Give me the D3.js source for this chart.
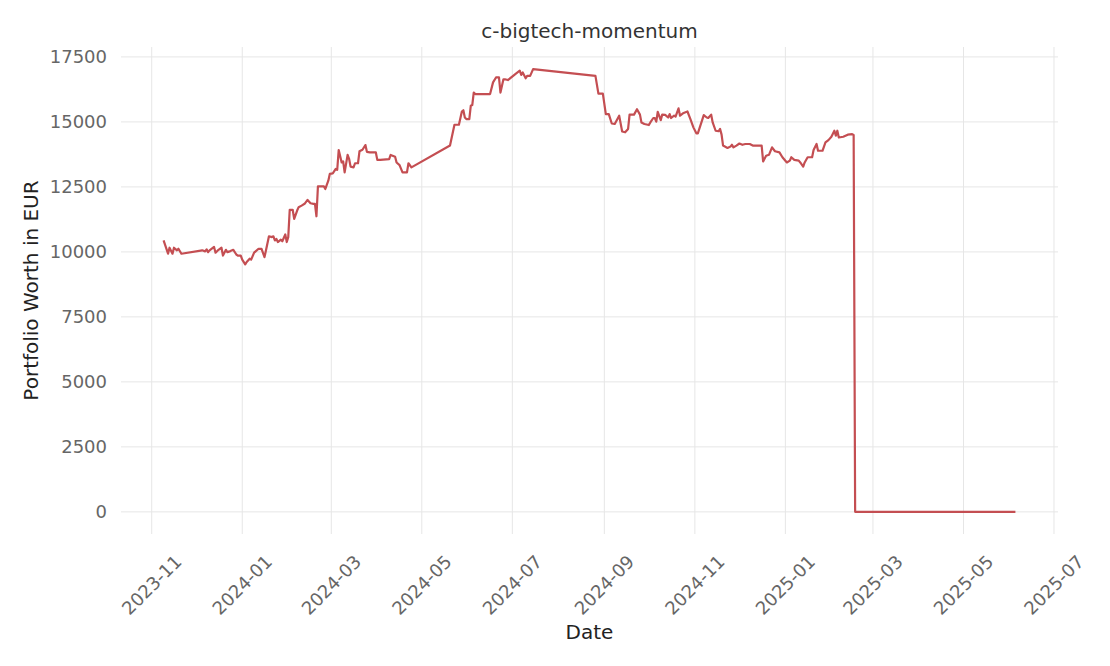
<!DOCTYPE html>
<html>
<head>
<meta charset="utf-8">
<script src="https://cdn.jsdelivr.net/npm/d3@7"></script>
<style>
  body { margin: 0; background: #fff; }
  svg text { font-family: "DejaVu Sans", sans-serif; }
</style>
</head>
<body>
<div id="chart-area"></div>
<script>

// chart data
let dates = [
	"2023-11-09","2023-11-12","2023-11-13","2023-11-15","2023-11-16","2023-11-18","2023-11-19","2023-11-21",
	"2023-12-05","2023-12-07","2023-12-08","2023-12-09","2023-12-10","2023-12-13","2023-12-14","2023-12-16",
	"2023-12-18","2023-12-19","2023-12-21","2023-12-22","2023-12-24","2023-12-26","2023-12-28","2023-12-29",
	"2023-12-31","2024-01-01","2024-01-03","2024-01-04","2024-01-06","2024-01-07","2024-01-09","2024-01-10",
	"2024-01-12","2024-01-14","2024-01-16","2024-01-17","2024-01-19","2024-01-21","2024-01-22","2024-01-23",
	"2024-01-24","2024-01-25","2024-01-27","2024-01-28","2024-01-30","2024-01-31","2024-02-01","2024-02-02",
	"2024-02-04","2024-02-05","2024-02-07","2024-02-08","2024-02-10","2024-02-12","2024-02-14","2024-02-16",
	"2024-02-18","2024-02-19","2024-02-20","2024-02-21","2024-02-25","2024-02-26","2024-02-28","2024-02-29",
	"2024-03-02","2024-03-04","2024-03-05","2024-03-06","2024-03-08","2024-03-09","2024-03-10","2024-03-12",
	"2024-03-13","2024-03-14","2024-03-16","2024-03-17","2024-03-19","2024-03-20","2024-03-22","2024-03-24",
	"2024-03-25","2024-03-27","2024-03-31","2024-04-01","2024-04-03","2024-04-09","2024-04-10","2024-04-13",
	"2024-04-14","2024-04-16","2024-04-18","2024-04-21","2024-04-22","2024-04-24","2024-05-20","2024-05-23",
	"2024-05-26","2024-05-28","2024-05-29","2024-05-30","2024-05-31","2024-06-02","2024-06-03","2024-06-04",
	"2024-06-05","2024-06-06","2024-06-16","2024-06-18","2024-06-20","2024-06-22","2024-06-23","2024-06-25",
	"2024-06-26","2024-06-28","2024-07-03","2024-07-06","2024-07-07","2024-07-08","2024-07-10","2024-07-11",
	"2024-07-13","2024-07-15","2024-08-26","2024-08-28","2024-08-31","2024-09-02","2024-09-04","2024-09-06",
	"2024-09-08","2024-09-11","2024-09-13","2024-09-15","2024-09-17","2024-09-18","2024-09-21","2024-09-23",
	"2024-09-25","2024-09-26","2024-09-28","2024-10-01","2024-10-02","2024-10-04","2024-10-05","2024-10-06",
	"2024-10-07","2024-10-09","2024-10-10","2024-10-12","2024-10-14","2024-10-15","2024-10-16","2024-10-18",
	"2024-10-19","2024-10-21","2024-10-22","2024-10-24","2024-10-27","2024-10-29","2024-10-31","2024-11-02",
	"2024-11-03","2024-11-07","2024-11-09","2024-11-10","2024-11-12","2024-11-13","2024-11-15","2024-11-17",
	"2024-11-18","2024-11-19","2024-11-20","2024-11-23","2024-11-25","2024-11-26","2024-11-27","2024-11-29",
	"2024-12-01","2024-12-03","2024-12-05","2024-12-08","2024-12-10","2024-12-16","2024-12-17","2024-12-19",
	"2024-12-21","2024-12-23","2024-12-25","2024-12-28","2024-12-30","2025-01-02","2025-01-04","2025-01-05",
	"2025-01-07","2025-01-10","2025-01-11","2025-01-13","2025-01-14","2025-01-16","2025-01-19","2025-01-20",
	"2025-01-22","2025-01-23","2025-01-26","2025-01-28","2025-01-30","2025-02-01","2025-02-03","2025-02-04",
	"2025-02-05","2025-02-06","2025-02-09","2025-02-12","2025-02-15","2025-02-16","2025-02-17","2025-06-05"
];

let worth = [
	10440, 9930, 10160, 9930, 10160, 10060, 10120, 9930,
	10060, 10020, 10100, 9990, 10060, 10190, 9970, 10080,
	10160, 9860, 10080, 9990, 10030, 10080, 9900, 9860,
	9860, 9700, 9520, 9610, 9740, 9700, 9970, 10020,
	10120, 10120, 9800, 10060, 10600, 10570, 10600, 10440,
	10500, 10380, 10470, 10410, 10670, 10380, 10570, 11620,
	11620, 11270, 11590, 11720, 11780, 11850, 12000, 11870,
	11850, 11850, 11370, 12520, 12520, 12420, 12740, 13000,
	13020, 13190, 13160, 13920, 13440, 13480, 13060, 13730,
	13580, 13280, 13250, 13410, 13410, 13870, 13930, 14110,
	13850, 13830, 13830, 13540, 13540, 13570, 13730, 13660,
	13440, 13340, 13060, 13060, 13410, 13250, 14090, 14890,
	14890, 15400, 15450, 15170, 15110, 15110, 15620, 15650,
	16130, 16070, 16070, 16520, 16710, 16710, 16130, 16640,
	16640, 16610, 16840, 16970, 16810, 16900, 16680, 16770,
	16770, 17030, 16770, 16090, 16090, 15300, 15300, 14940,
	14920, 15240, 14630, 14600, 14730, 15280, 15280, 15490,
	15280, 14980, 14920, 14880, 14980, 15150, 15150, 15010,
	15390, 15070, 15280, 15270, 15170, 15300, 15150, 15240,
	15200, 15520, 15240, 15330, 15400, 15110, 14790, 14560,
	14560, 15260, 15170, 15150, 15280, 14980, 14660, 14640,
	14730, 14510, 14090, 14000, 14050, 14120, 14020, 14090,
	14170, 14120, 14150, 14150, 14090, 14090, 13480, 13700,
	13740, 14020, 13870, 13830, 13640, 13440, 13510, 13640,
	13540, 13510, 13440, 13280, 13440, 13640, 13640, 13920,
	14150, 13890, 13890, 14210, 14300, 14430, 14660, 14470,
	14660, 14400, 14430, 14510, 14530, 14500, 0, 0
];

let yTicks = [0, 2500, 5000, 7500, 10000, 12500, 15000, 17500];
let xTicks = ["2023-11","2024-01","2024-03","2024-05","2024-07","2024-09","2024-11","2025-01","2025-03","2025-05","2025-07"];

let width = 1110,
height = 666;

let svg = d3.select("#chart-area").append("svg")
	.attr("width", width)
	.attr("height", height);

let parseDay = d3.timeParse("%Y-%m-%d");
let parseMonth = d3.timeParse("%Y-%m");

let data = dates.map((d, i) => ({date: parseDay(d), value: worth[i]}));

// matplotlib style 5% margins
let ext = d3.extent(data, d => d.date);
let pad = (ext[1] - ext[0]) * 0.05;
let x = d3.scaleTime()
	.domain([new Date(+ext[0] - pad), new Date(+ext[1] + pad)])
	.range([121, 1058]);

let yMax = d3.max(worth);
let y = d3.scaleLinear()
	.domain([-yMax * 0.05, yMax * 1.05])
	.range([534, 47]);

let plotTop = y.range()[1], plotBottom = y.range()[0];
let plotLeft = x.range()[0], plotRight = x.range()[1];

// grid
svg.selectAll(".vgrid")
	.data(xTicks)
	.enter().append("line")
	.attr("class", "vgrid")
	.attr("x1", d => x(parseMonth(d)))
	.attr("x2", d => x(parseMonth(d)))
	.attr("y1", plotTop)
	.attr("y2", plotBottom)
	.style("stroke", "#e6e6e6")
	.style("stroke-width", 1);

svg.selectAll(".hgrid")
	.data(yTicks)
	.enter().append("line")
	.attr("class", "hgrid")
	.attr("x1", plotLeft)
	.attr("x2", plotRight)
	.attr("y1", d => y(d))
	.attr("y2", d => y(d))
	.style("stroke", "#e6e6e6")
	.style("stroke-width", 1);

// tick labels
svg.selectAll(".ylab")
	.data(yTicks)
	.enter().append("text")
	.attr("class", "ylab")
	.attr("x", 107)
	.attr("y", d => y(d))
	.attr("dy", "0.35em")
	.attr("text-anchor", "end")
	.style("font-size", "18px")
	.style("fill", "#666")
	.text(d => d);

svg.selectAll(".xlab")
	.data(xTicks)
	.enter().append("text")
	.attr("class", "xlab")
	.attr("text-anchor", "middle")
	.attr("dy", "0.35em")
	.attr("transform", d => "translate(" + x(parseMonth(d)) + ",585) rotate(-45)")
	.style("font-size", "18px")
	.style("fill", "#666")
	.text(d => d);

// the line
let line = d3.line()
	.x(d => x(d.date))
	.y(d => y(d.value));

svg.append("path")
	.datum(data)
	.attr("d", line)
	.style("fill", "none")
	.style("stroke", "#c44e52")
	.style("stroke-width", 2.2)
	.style("stroke-linejoin", "round");

// titles
svg.append("text")
	.attr("x", (plotLeft + plotRight) / 2)
	.attr("y", 38)
	.attr("text-anchor", "middle")
	.style("font-size", "20px")
	.style("fill", "#333")
	.text("c-bigtech-momentum");

svg.append("text")
	.attr("x", (plotLeft + plotRight) / 2)
	.attr("y", 639)
	.attr("text-anchor", "middle")
	.style("font-size", "20px")
	.style("fill", "#222")
	.text("Date");

svg.append("text")
	.attr("transform", "translate(38," + ((plotTop + plotBottom) / 2) + ") rotate(-90)")
	.attr("text-anchor", "middle")
	.style("font-size", "20px")
	.style("fill", "#222")
	.text("Portfolio Worth in EUR");

</script>
</body>
</html>
